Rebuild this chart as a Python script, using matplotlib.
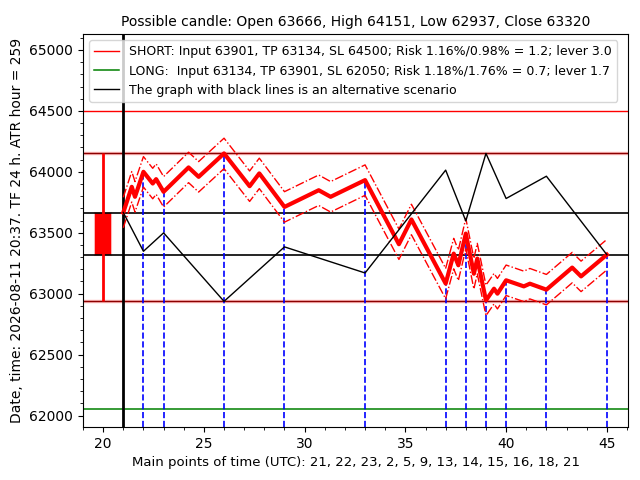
import matplotlib
matplotlib.use('Agg')
import matplotlib.pyplot as plt
from matplotlib.ticker import MultipleLocator

# Свеча
candle_open, candle_high, candle_low, candle_close = 63666, 64151, 62937, 63320
atr_hour = 259

# Основные точки времени
main_times = [21, 22, 23, 26, 29, 33, 37, 38, 39, 40, 42, 45]
time_labels = [21, 22, 23, 2, 5, 9, 13, 14, 15, 16, 18, 21]

# Основной сценарий (красная линия)
main_x = [21, 21.42, 21.58, 22, 22.46, 22.63, 23, 24.24, 24.74, 26, 27.27, 27.75, 29,
          30.7, 31.29, 33, 34.68, 35.3, 37, 37.4, 37.63, 38, 38.4, 38.57, 39, 39.4,
          39.57, 40, 40.88, 41.18, 42, 43.28, 43.72, 45]
main_y = [63666, 63877, 63795, 64000, 63904, 63940, 63836, 64036, 63959, 64151, 63882,
          63987, 63712, 63849, 63795, 63932, 63406, 63609, 63083, 63329, 63233, 63493,
          63164, 63288, 62945, 63041, 63000, 63110, 63060, 63082, 63033, 63214, 63142, 63320]
band = 125

# Альтернативный сценарий (черная линия)
alt_y = [63666, 63348, 63499, 62937, 63384, 63170, 64014, 63597, 64151, 63781, 63964, 63320]

# Уровни
short_input, short_tp, short_sl = 63901, 63134, 64500
long_input, long_tp, long_sl = 63134, 63901, 62050

fig = plt.figure(figsize=(6.4, 4.8), dpi=100)
ax = plt.gca()

# Горизонтальные уровни
plt.axhline(short_sl, color='red', linewidth=1, label=f'SHORT: Input {short_input}, TP {short_tp}, SL {short_sl}; Risk 1.16%/0.98% = 1.2; lever 3.0')
plt.axhline(long_sl, color='green', linewidth=1.1, label=f'LONG:  Input {long_input}, TP {long_tp}, SL {long_sl}; Risk 1.18%/1.76% = 0.7; lever 1.7')
for lvl in (candle_high, candle_low):
    plt.axhline(lvl, color='red', linewidth=2.5, alpha=0.25)
    plt.axhline(lvl, color='darkred', linewidth=1)
plt.axhline(candle_open, color='black', linewidth=1.2)
plt.axhline(candle_close, color='black', linewidth=1.2)

# Свеча
plt.vlines(20, candle_low, candle_high, color='red', linewidth=2)
plt.bar(20, candle_open - candle_close, bottom=candle_close, width=0.8,
        color='red', edgecolor=(1, 0, 0, 0.3), linewidth=1.5)

# Вертикальная линия текущего времени
plt.axvline(21, color='black', linewidth=2)

# Вертикальные пунктиры до основной линии
ymin, ymax = 61906, 65131
for t in main_times[1:]:
    plt.vlines(t, ymin, main_y[main_x.index(t)], color='blue', linestyle='--', linewidth=1.2)

# Красный сценарий
plt.plot(main_x, main_y, color='red', linewidth=3)
plt.plot(main_x, [v + band for v in main_y], color='red', linestyle='-.', linewidth=1)
plt.plot(main_x, [v - band for v in main_y], color='red', linestyle='-.', linewidth=1)

# Черный сценарий
plt.plot(main_times, alt_y, color='black', linewidth=1,
         label='The graph with black lines is an alternative scenario')

plt.xlim(19.0, 46.05)
plt.ylim(ymin, ymax)
ax.xaxis.set_minor_locator(MultipleLocator(1))
ax.yaxis.set_minor_locator(MultipleLocator(100))

plt.title(f'Possible candle: Open {candle_open}, High {candle_high}, Low {candle_low}, Close {candle_close}', fontsize=10)
plt.xlabel('Main points of time (UTC): ' + ', '.join(str(t) for t in time_labels), fontsize=9.5)
plt.ylabel(f'Date, time: 2026-08-11 20:37. TF 24 h. ATR hour = {atr_hour}')
plt.legend(loc='upper left', fontsize=9)
plt.subplots_adjust(left=83 / 640, right=628 / 640, top=1 - 34 / 480, bottom=1 - 427 / 480)
plt.savefig('out.png')
plt.close()
